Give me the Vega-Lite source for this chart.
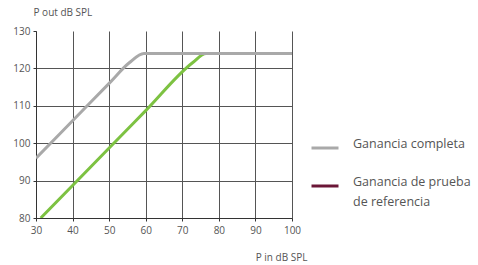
{
  "$schema": "https://vega.github.io/schema/vega-lite/v6.json",
  "width": 256,
  "height": 187,
  "autosize": "none",
  "padding": {"left": 36, "top": 31, "right": 186, "bottom": 47},
  "background": "white",
  "config": {
    "view": {"stroke": null},
    "font": "Open Sans",
    "style": {"guide-label": {"lineHeight": 20}},
    "axis": {
      "labelFont": "Open Sans",
      "labelFontSize": 10,
      "labelColor": "#555",
      "labelFlush": false,
      "titleFont": "Open Sans",
      "titleFontSize": 10,
      "titleFontWeight": "normal",
      "titleColor": "#555",
      "domainColor": "#333",
      "tickColor": "#333",
      "tickSize": 3,
      "gridColor": "#555",
      "gridWidth": 1,
      "gridOpacity": 1
    }
  },
  "datasets": {
    "curves": [
      {"x": 30, "y": 96, "curva": "completa"},
      {"x": 40, "y": 106, "curva": "completa"},
      {"x": 50, "y": 116, "curva": "completa"},
      {"x": 55.5, "y": 121.5, "curva": "completa"},
      {"x": 59.5, "y": 124, "curva": "completa"},
      {"x": 70, "y": 124, "curva": "completa"},
      {"x": 100, "y": 124, "curva": "completa"},
      {"x": 31.3, "y": 80, "curva": "prueba"},
      {"x": 40, "y": 88.7, "curva": "prueba"},
      {"x": 50, "y": 98.7, "curva": "prueba"},
      {"x": 60, "y": 108.7, "curva": "prueba"},
      {"x": 72.8, "y": 121.5, "curva": "prueba"},
      {"x": 76.5, "y": 124, "curva": "prueba"},
      {"x": 85, "y": 124, "curva": "prueba"},
      {"x": 100, "y": 124, "curva": "prueba"}
    ]
  },
  "encoding": {
    "x": {
      "field": "x", "type": "quantitative",
      "scale": {"domain": [30, 100], "nice": false, "zero": false},
      "axis": {
        "values": [30, 40, 50, 60, 70, 80, 90, 100],
        "title": "P in dB SPL",
        "titleAlign": "right",
        "titleAnchor": null,
        "titleX": 271,
        "titleY": 42,
        "titleBaseline": "alphabetic",
        "labelPadding": 4,
        "grid": true
      }
    },
    "y": {
      "field": "y", "type": "quantitative",
      "scale": {"domain": [80, 130], "nice": false, "zero": false},
      "axis": {
        "values": [80, 90, 100, 110, 120, 130],
        "title": "P out dB SPL",
        "titleAngle": 0,
        "titleAlign": "left",
        "titleAnchor": null,
        "titleX": -3,
        "titleY": -16,
        "titleBaseline": "alphabetic",
        "labelPadding": 3,
        "grid": true,
        "gridOpacity": {"condition": {"test": "datum.value == 130", "value": 0}, "value": 1}
      }
    }
  },
  "layer": [
    {
      "data": {"name": "curves"},
      "transform": [{"filter": "datum.curva == 'prueba'"}],
      "mark": {"type": "line", "strokeWidth": 3, "interpolate": "monotone", "clip": true},
      "encoding": {
        "color": {
          "field": "curva", "type": "nominal",
          "scale": {"domain": ["completa", "prueba"], "range": ["#a9a9a9", "#7dc242"]},
          "legend": null
        }
      }
    },
    {
      "data": {"name": "curves"},
      "transform": [{"filter": "datum.curva == 'completa'"}],
      "mark": {"type": "line", "strokeWidth": 3, "interpolate": "monotone", "clip": true},
      "encoding": {
        "color": {
          "field": "curva", "type": "nominal",
          "scale": {"domain": ["completa", "prueba"], "range": ["#a9a9a9", "#7dc242"]},
          "legend": null
        }
      }
    },
    {
      "data": {"values": [
        {"serie": "Ganancia completa"},
        {"serie": "Ganancia de prueba de referencia"}
      ]},
      "transform": [{"filter": "false"}],
      "mark": {"type": "line", "strokeWidth": 3},
      "encoding": {
        "x": null,
        "y": null,
        "color": {
          "field": "serie", "type": "nominal",
          "scale": {
            "domain": ["Ganancia completa", "Ganancia de prueba de referencia"],
            "range": ["#a9a9a9", "#6b1637"]
          },
          "legend": {
            "title": null,
            "orient": "none",
            "legendX": 274,
            "legendY": 102,
            "symbolType": "stroke",
            "symbolSize": 729,
            "symbolStrokeWidth": 3,
            "labelFont": "Open Sans",
            "labelFontSize": 12.5,
            "labelColor": "#555",
            "labelOffset": 13,
            "labelLimit": 200,
            "labelBaseline": "alphabetic",
            "rowPadding": 17,
            "labelExpr": "datum.label == 'Ganancia de prueba de referencia' ? ['Ganancia de prueba', 'de referencia'] : datum.label"
          }
        }
      }
    }
  ],
  "resolve": {"scale": {"color": "independent"}, "legend": {"color": "independent"}}
}
